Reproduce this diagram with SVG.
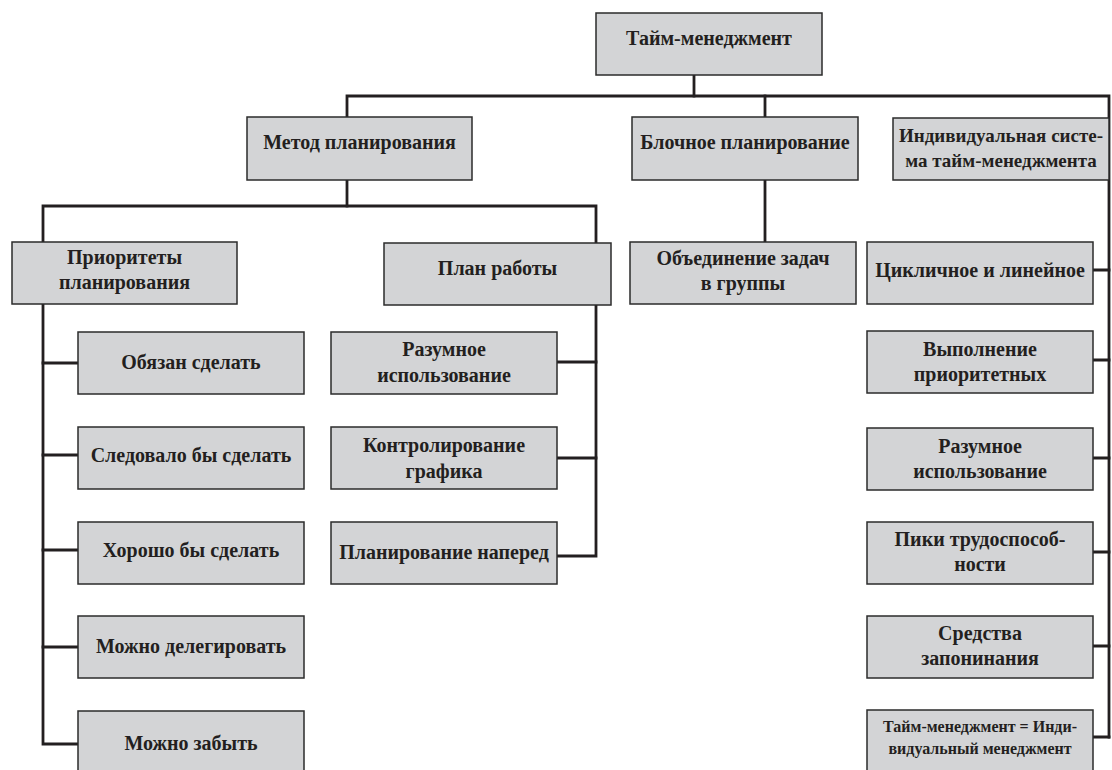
<svg xmlns="http://www.w3.org/2000/svg" width="1112" height="770" viewBox="0 0 1112 770">
<style>
  .bg { fill: #ffffff; }
  .box { fill: #d3d4d6; stroke: #2b2b2b; stroke-width: 1.5; }
  .conn { fill: none; stroke: #231f20; stroke-width: 2.8; stroke-linejoin: miter; stroke-linecap: square; }
  text { font-family: "Liberation Serif", "Times New Roman", serif; font-weight: bold; font-size: 20px; fill: #231f20; text-anchor: middle; }
  .small { font-size: 16px; }
  .mid { font-size: 19px; }
</style>
<rect class="bg" x="0" y="0" width="1112" height="770"/>
<g id="connectors">
  <path class="conn" d="M694,75 V96"/>
  <path class="conn" d="M347,117 V96 H1109 V737"/>
  <path class="conn" d="M765,96 V117"/>
  <path class="conn" d="M347,180 V206"/>
  <path class="conn" d="M43,242 V206 H596 V243"/>
  <path class="conn" d="M43,302 V744 H78"/>
  <path class="conn" d="M596,305 V556 H557"/>
  <path class="conn" d="M765,180 V242"/>
  <path class="conn" d="M43,363 H78 M43,455 H78 M43,550 H78 M43,647 H78"/>
  <path class="conn" d="M557,362 H596 M557,458 H596"/>
  <path class="conn" d="M1093,270 H1109 M1093,360 H1109 M1093,458 H1109 M1093,552 H1109 M1093,646 H1109 M1093,737 H1109"/>
</g>
<g id="n-top"><rect class="box" x="596" y="13" width="226" height="62"/><text x="709" y="45">Тайм-менеджмент</text></g>
<g id="n-metod"><rect class="box" x="247" y="117" width="225" height="63"/><text x="359.5" y="149">Метод планирования</text></g>
<g id="n-block"><rect class="box" x="632" y="117" width="226" height="63"/><text x="745" y="149">Блочное планирование</text></g>
<g id="n-indiv"><rect class="box" x="893" y="118" width="216" height="62"/><text class="mid" x="1001" y="142">Индивидуальная систе-</text><text class="mid" x="1001" y="167">ма тайм-менеджмента</text></g>
<g id="n-prior"><rect class="box" x="12" y="242" width="225" height="62"/><text x="124.5" y="264">Приоритеты</text><text x="124.5" y="289">планирования</text></g>
<g id="n-plan"><rect class="box" x="384" y="243" width="227" height="62"/><text x="497.5" y="275">План работы</text></g>
<g id="n-obed"><rect class="box" x="630" y="242" width="226" height="62"/><text x="743" y="265">Объединение задач</text><text x="743" y="290">в группы</text></g>
<g id="n-cycl"><rect class="box" x="867" y="242" width="226" height="62"/><text x="980" y="277">Цикличное и линейное</text></g>

<g id="n-obyaz"><rect class="box" x="78" y="332" width="226" height="62"/><text x="191" y="369">Обязан сделать</text></g>
<g id="n-sledov"><rect class="box" x="78" y="427" width="226" height="62"/><text x="191" y="462">Следовало бы сделать</text></g>
<g id="n-horosho"><rect class="box" x="78" y="522" width="226" height="62"/><text x="191" y="557">Хорошо бы сделать</text></g>
<g id="n-deleg"><rect class="box" x="78" y="616" width="226" height="62"/><text x="191" y="653">Можно делегировать</text></g>
<g id="n-zabyt"><rect class="box" x="78" y="711" width="226" height="64"/><text x="191" y="750">Можно забыть</text></g>

<g id="n-razum1"><rect class="box" x="331" y="332" width="226" height="62"/><text x="444" y="356">Разумное</text><text x="444" y="382">использование</text></g>
<g id="n-kontr"><rect class="box" x="331" y="427" width="226" height="62"/><text x="444" y="452">Контролирование</text><text x="444" y="478">графика</text></g>
<g id="n-napered"><rect class="box" x="331" y="522" width="226" height="62"/><text x="444" y="559">Планирование наперед</text></g>

<g id="n-vypoln"><rect class="box" x="867" y="331" width="226" height="62"/><text x="980" y="356">Выполнение</text><text x="980" y="381">приоритетных</text></g>
<g id="n-razum2"><rect class="box" x="867" y="428" width="226" height="62"/><text x="980" y="453">Разумное</text><text x="980" y="478">использование</text></g>
<g id="n-piki"><rect class="box" x="867" y="522" width="226" height="62"/><text x="980" y="546">Пики трудоспособ-</text><text x="980" y="571">ности</text></g>
<g id="n-sredstva"><rect class="box" x="867" y="616" width="226" height="62"/><text x="980" y="640">Средства</text><text x="980" y="665">запонинания</text></g>
<g id="n-tm"><rect class="box" x="867" y="710" width="226" height="64"/><text class="small" x="980" y="732">Тайм-менеджмент = Инди-</text><text class="small" x="980" y="754">видуальный менеджмент</text></g>
</svg>
